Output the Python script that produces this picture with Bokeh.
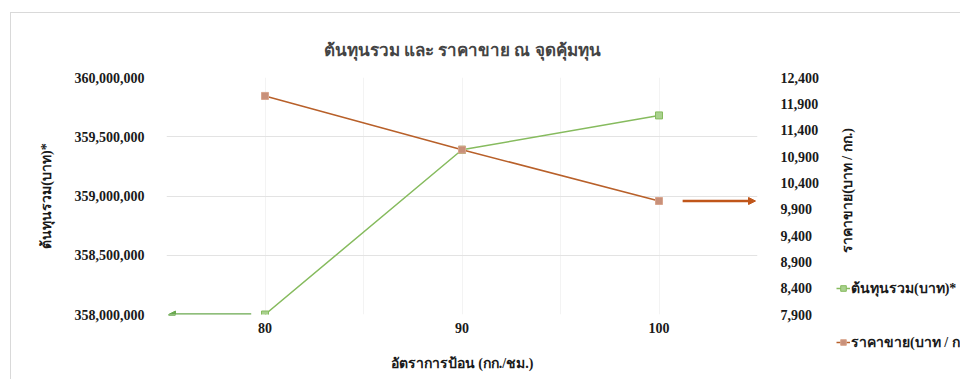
import math
from bokeh.plotting import figure
from bokeh.layouts import column
from bokeh.models import (Range1d, LinearAxis, FixedTicker, NumeralTickFormatter, Arrow,
                          NormalHead, Legend, LegendItem, ColumnDataSource, Label)
from bokeh.embed import file_html
from bokeh.resources import INLINE

# ---- data ----
feed_rates = ["80", "90", "100"]
total_cost = [358000000, 359390000, 359680000]
sell_price = [12050, 11030, 10055]
left_ticks = [358000000, 358500000, 359000000, 359500000, 360000000]
right_ticks = [7900, 8400, 8900, 9400, 9900, 10400, 10900, 11400, 11900, 12400]

title_txt = "ต้นทุนรวม และ ราคาขาย ณ จุดคุ้มทุน"
x_label = "อัตราการป้อน (กก./ชม.)"
y_label = "ต้นทุนรวม(บาท)*"
y2_label = "ราคาขาย(บาท / กก.)"
cost_name = "ต้นทุนรวม(บาท)*"
price_name = "ราคาขาย(บาท / กก."

xpos = list(range(len(feed_rates)))
src = ColumnDataSource(dict(x=xpos, cost=total_cost, price=sell_price))

SERIF = "Liberation Serif"
GREEN_LINE = "#86bb5e"
GREEN_FILL = "#a9d18e"
GREEN_EDGE = "#86bb5e"
ORANGE_LINE = "#b8602a"
ORANGE_FILL = "#c8907a"
ORANGE_EDGE = "#d9a58d"

p = figure(width=950, height=367, frame_width=590, frame_height=236,
           output_backend="svg", toolbar_location=None,
           x_range=Range1d(-0.5, len(feed_rates) - 0.5),
           y_range=Range1d(left_ticks[0], left_ticks[-1]),
           min_border_left=155, min_border_right=205, min_border_top=64, min_border_bottom=67)
p.styles = {"margin-left": "10px", "margin-top": "12px",
            "border-left": "1px solid #d9d9d9", "border-top": "1px solid #d9d9d9"}
p.outline_line_color = None
p.background_fill_color = "white"
p.border_fill_color = "white"

p.extra_y_ranges = {"price": Range1d(right_ticks[0], right_ticks[-1])}

# title
p.title.text = title_txt
p.title.text_font = SERIF
p.title.text_font_size = "17px"
p.title.text_font_style = "bold"
p.title.align = "center"
p.title.offset = 44
p.title.standoff = 36

# series
r1 = p.line("x", "cost", source=src, line_color=GREEN_LINE, line_width=1.5)
r1m = p.scatter("x", "cost", source=src, marker="square", size=7,
                fill_color=GREEN_FILL, line_color=GREEN_EDGE, line_width=1)
r2 = p.line("x", "price", source=src, y_range_name="price", line_color=ORANGE_LINE, line_width=1.5)
r2m = p.scatter("x", "price", source=src, y_range_name="price", marker="square", size=7,
                fill_color=ORANGE_FILL, line_color=ORANGE_EDGE, line_width=1)

# x axis
xa = p.xaxis[0]
xa.ticker = FixedTicker(ticks=xpos)
xa.major_label_overrides = {i: lab for i, lab in zip(xpos, feed_rates)}
xa.axis_label = x_label

# left axis
ya = p.yaxis[0]
ya.ticker = FixedTicker(ticks=left_ticks)
ya.formatter = NumeralTickFormatter(format="0,0")
ya.axis_label = y_label

# right axis (its title is drawn as a rotated label in the same side panel)
ra = LinearAxis(y_range_name="price", ticker=FixedTicker(ticks=right_ticks),
                formatter=NumeralTickFormatter(format="0,0"))
p.add_layout(ra, "right")

for ax in [xa, ya, ra]:
    ax.axis_line_color = None
    ax.major_tick_line_color = None
    ax.minor_tick_line_color = None
    ax.major_label_text_font = SERIF
    ax.major_label_text_font_size = "14px"
    ax.major_label_text_font_style = "bold"
    ax.major_label_text_color = "#1a1a1a"
    ax.axis_label_text_font = SERIF
    ax.axis_label_text_font_size = "14px"
    ax.axis_label_text_font_style = "bold"
    ax.axis_label_text_color = "#1a1a1a"
xa.major_label_standoff = 2
xa.axis_label_standoff = 20
ya.axis_label_standoff = 18
ya.major_label_standoff = 16
ra.major_label_standoff = 17

y2_title = Label(text=y2_label, x=25, y=124, x_units="screen", y_units="screen",
                 angle=math.pi / 2, text_align="center", text_baseline="middle",
                 text_font=SERIF, text_font_size="14px", text_font_style="bold",
                 text_color="#1a1a1a")
p.add_layout(y2_title, "right")

# grids
p.ygrid.ticker = FixedTicker(ticks=left_ticks)
p.ygrid.grid_line_color = "#e3e3e3"
p.ygrid.grid_line_width = 1.2
p.xgrid.ticker = FixedTicker(ticks=[i * 0.5 - 0.5 for i in range(2 * len(feed_rates) + 1)])
p.xgrid.grid_line_color = "#f3f3f3"

# axis indicator arrows
p.add_layout(Arrow(end=NormalHead(size=7, line_color="#6aa84f", fill_color="#6aa84f"),
                   x_start=xpos[0] - 0.07, y_start=total_cost[0],
                   x_end=xpos[0] - 0.49, y_end=total_cost[0],
                   line_color="#6aa84f", line_width=2.5))
p.add_layout(Arrow(end=NormalHead(size=7, line_color="#c0561a", fill_color="#c0561a"),
                   x_start=xpos[-1] + 0.12, y_start=sell_price[-1],
                   x_end=xpos[-1] + 0.49, y_end=sell_price[-1],
                   y_range_name="price",
                   line_color="#c0561a", line_width=2.5))

# legend: a small overlay figure that shares the series data (lines out of its view)
q = figure(width=124, height=76, output_backend="svg", toolbar_location=None,
           x_axis_type=None, y_axis_type=None,
           x_range=Range1d(100, 101), y_range=Range1d(0, 1),
           min_border=0, min_border_left=0, min_border_right=0,
           min_border_top=0, min_border_bottom=0)
q.outline_line_color = None
q.grid.visible = False
q.background_fill_alpha = 0
q.border_fill_alpha = 0
q.styles = {"position": "absolute", "left": "836px", "top": "277px"}
l1 = q.line("x", "cost", source=src, line_color=GREEN_LINE, line_width=1.5)
l1m = q.scatter("x", "cost", source=src, marker="square", size=7,
                fill_color=GREEN_FILL, line_color=GREEN_EDGE, line_width=1)
l2 = q.line("x", "price", source=src, line_color=ORANGE_LINE, line_width=1.5)
l2m = q.scatter("x", "price", source=src, marker="square", size=7,
                fill_color=ORANGE_FILL, line_color=ORANGE_EDGE, line_width=1)
legend = Legend(items=[LegendItem(label=cost_name, renderers=[l1, l1m]),
                       LegendItem(label=price_name, renderers=[l2, l2m])],
                location="top_left", orientation="vertical",
                spacing=32, padding=0, margin=0, glyph_width=14, glyph_height=14,
                label_standoff=1, border_line_color=None, background_fill_alpha=0,
                label_text_font=SERIF, label_text_font_size="14px",
                label_text_font_style="bold", label_text_color="#1a1a1a")
q.add_layout(legend, "center")

layout = column(p, q)
layout.styles = {"position": "relative"}

open("out.html", "w").write(file_html(layout, INLINE))
